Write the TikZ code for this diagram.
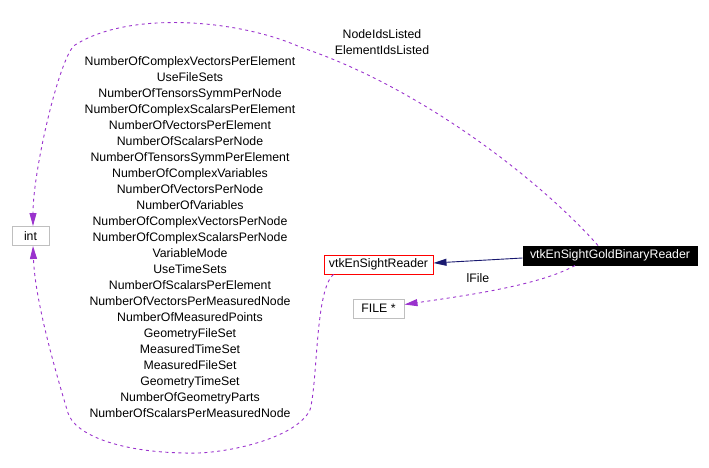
\documentclass[tikz,border=0pt]{standalone}
\usepackage{fontspec}
\setmainfont{Liberation Sans}
\usetikzlibrary{arrows.meta}
\definecolor{usecol}{HTML}{9A32CD}
\definecolor{inhcol}{HTML}{191970}
\definecolor{boxgray}{HTML}{BFBFBF}
\tikzstyle{cls}=[draw=boxgray, line width=1pt, minimum height=19pt, inner xsep=4pt, inner ysep=0pt, font=\fontsize{12.3}{16}\selectfont]
\tikzstyle{use}=[usecol, line width=0.9pt, dash pattern=on 3pt off 3.5pt, -{Triangle[length=13pt,width=7pt]}]
\tikzstyle{inh}=[inhcol, line width=0.9pt, -{Triangle[length=13pt,width=7pt]}]
\tikzstyle{lbl}=[align=center, inner sep=0, font=\fontsize{12.3}{16}\selectfont]

\begin{document}
\begin{tikzpicture}[x=1pt, y=-1pt]
\useasboundingbox (0,0) rectangle (709,468);
\node at (30.5,236)[cls, minimum width=37pt](int){int};
\node at (378.5,264.5)[cls, draw=red, minimum width=109pt](reader){vtkEnSightReader};
\node at (378.5,308.5)[cls, minimum width=51pt](file){FILE *};
\node at (610,255.5)[cls, draw=black, fill=black, text=white, minimum width=174pt](gold){vtkEnSightGoldBinaryReader};
\draw[inh] ([yshift=-2.5pt]gold.west)--([yshift=1.5pt]reader.east);
\draw[use] ([xshift=-35pt]gold.south) .. controls (540,285) and (470,295) .. ([yshift=4pt]file.east);
\node at (478,278)[lbl](lfile){lFile};
\draw[use] ([xshift=-12pt]gold.north) .. controls (540,180) and (420,87) .. (300,47)
  .. controls (240,20) and (130,10) .. (75,45)
  .. controls (60,55) and (33,170) .. ([xshift=2.5pt]int.north);
\node at (382,42)[lbl](ids){NodeIdsListed\\ElementIdsListed};
\draw[use] ([xshift=-45pt]reader.south) .. controls (315,290) and (318,380) .. (310,410)
  .. controls (295,440) and (220,455) .. (185,453)
  .. controls (120,452) and (75,435) .. (68,413)
  .. controls (55,370) and (35,300) .. ([xshift=2.5pt]int.south);
%\node at (190,237)[lbl](attrs){...};
\node at (190,237)[lbl](attrs){NumberOfComplexVectorsPerElement\\UseFileSets\\NumberOfTensorsSymmPerNode\\NumberOfComplexScalarsPerElement\\NumberOfVectorsPerElement\\NumberOfScalarsPerNode\\NumberOfTensorsSymmPerElement\\NumberOfComplexVariables\\NumberOfVectorsPerNode\\NumberOfVariables\\NumberOfComplexVectorsPerNode\\NumberOfComplexScalarsPerNode\\VariableMode\\UseTimeSets\\NumberOfScalarsPerElement\\NumberOfVectorsPerMeasuredNode\\NumberOfMeasuredPoints\\GeometryFileSet\\MeasuredTimeSet\\MeasuredFileSet\\GeometryTimeSet\\NumberOfGeometryParts\\NumberOfScalarsPerMeasuredNode};
\end{tikzpicture}
\end{document}
